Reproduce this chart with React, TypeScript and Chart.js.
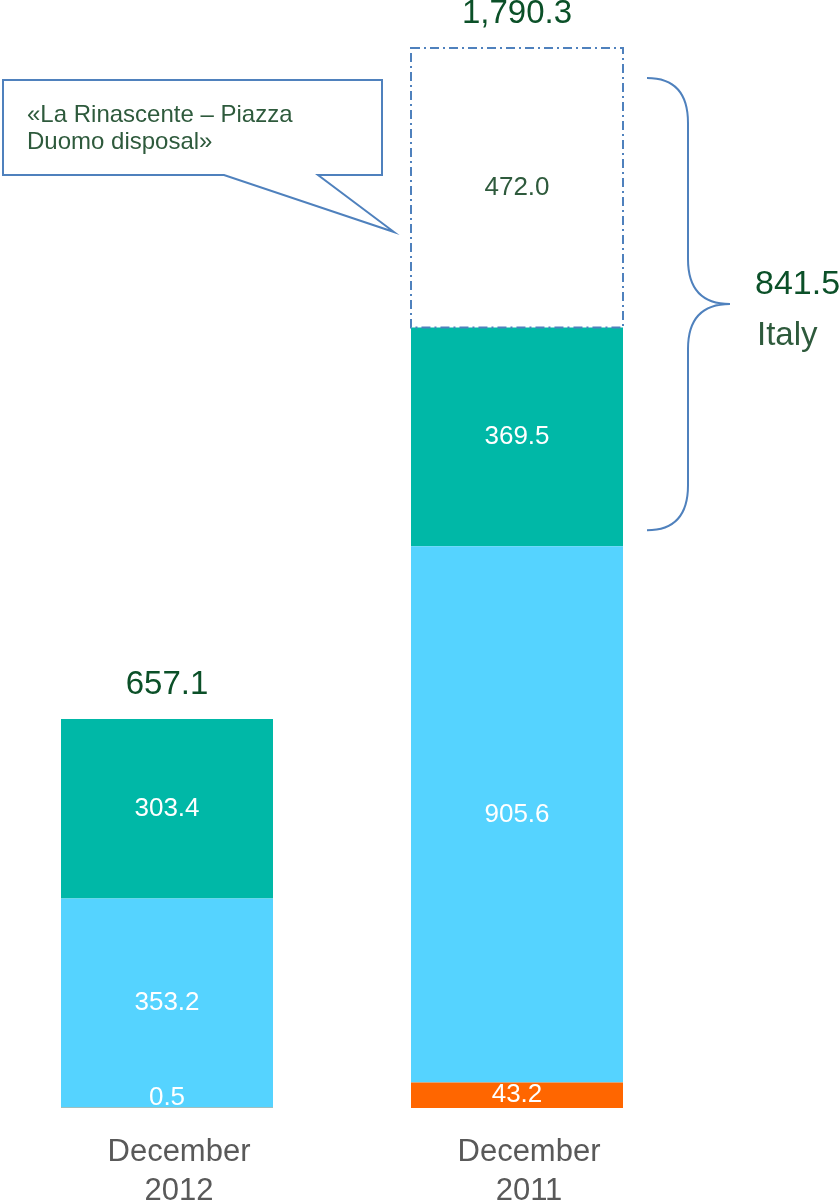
import React, { useEffect, useRef } from 'react';
import { Chart, registerables } from 'chart.js';

Chart.register(...registerables);

// ---------- data ----------
const categories = [['December', '2012'], ['December', '2011']];
const seriesNames = ['Other', 'Abroad', 'Italy', 'La Rinascente – Piazza Duomo disposal'];
const otherValues = [0.5, 43.2];
const abroadValues = [353.2, 905.6];
const italyValues = [303.4, 369.5];
const disposalValues: (number | null)[] = [null, 472.0];
const bracketLabel = 'Italy';
const calloutLines = ['«La Rinascente – Piazza', 'Duomo disposal»'];

// ---------- style ----------
const FONT = '"Liberation Sans", Arial, Helvetica, sans-serif';
const COLORS = ['#FF6600', '#55D3FF', '#00B8A7', '#FFFFFF'];
const LINE = '#4F81BD';
const TOTAL_GREEN = '#0B5028';
const TEXT_GREEN = '#2E5A3C';
const AXIS_GREY = '#595959';

const seriesData = [otherValues, abroadValues, italyValues, disposalValues];
const totals = categories.map((_, i) =>
  seriesData.reduce((s, arr) => s + (arr[i] ?? 0), 0)
);
const bracketIndex = 1;
const bracketValue = (italyValues[bracketIndex] ?? 0) + (disposalValues[bracketIndex] ?? 0);
const yMax = Math.max(...totals);

const fmt = (v: number) =>
  v.toLocaleString('en-US', { minimumFractionDigits: 1, maximumFractionDigits: 1 });

const overlayPlugin = {
  id: 'overlay',
  afterDatasetsDraw(chart: any) {
    const ctx = chart.ctx as CanvasRenderingContext2D;
    const yScale = chart.scales.y;
    ctx.save();

    // dashed outline for the disposal segment
    const dMeta = chart.getDatasetMeta(3);
    dMeta.data.forEach((el: any, i: number) => {
      if (disposalValues[i] == null) return;
      const p = el.getProps(['x', 'y', 'base', 'width'], true);
      ctx.setLineDash([9, 4, 2, 4]);
      ctx.strokeStyle = LINE;
      ctx.lineWidth = 2;
      ctx.strokeRect(p.x - p.width / 2, p.y, p.width, p.base - p.y);
    });
    ctx.setLineDash([]);

    // segment labels
    ctx.textAlign = 'center';
    ctx.textBaseline = 'middle';
    ctx.font = `26px ${FONT}`;
    chart.data.datasets.forEach((ds: any, di: number) => {
      const meta = chart.getDatasetMeta(di);
      meta.data.forEach((el: any, i: number) => {
        const v = ds.data[i];
        if (v == null) return;
        const p = el.getProps(['x', 'y', 'base'], true);
        let cy = (p.y + p.base) / 2;
        if (p.base - p.y < 22) cy = p.base - 10;
        ctx.fillStyle = di === 3 ? TEXT_GREEN : '#FFFFFF';
        ctx.fillText(fmt(v), p.x, cy);
      });
    });

    // totals above the bars
    const xMeta = chart.getDatasetMeta(0);
    ctx.font = `33px ${FONT}`;
    ctx.fillStyle = TOTAL_GREEN;
    totals.forEach((t, i) => {
      const x = xMeta.data[i].x;
      const top = yScale.getPixelForValue(t);
      ctx.fillText(fmt(t), x, top - 34);
    });

    // brace for Italy
    const el = chart.getDatasetMeta(3).data[bracketIndex] as any;
    const right = el.x + el.width / 2;
    const top = yScale.getPixelForValue(totals[bracketIndex]) + 30;
    const bot = yScale.getPixelForValue(totals[bracketIndex] - bracketValue) - 16;
    const mid = (top + bot) / 2;
    const x0 = right + 24;
    const x1 = right + 65;
    const x2 = right + 107;
    const r = 45;
    ctx.strokeStyle = LINE;
    ctx.lineWidth = 2;
    ctx.beginPath();
    ctx.moveTo(x0, top);
    ctx.quadraticCurveTo(x1, top, x1, top + r);
    ctx.lineTo(x1, mid - r);
    ctx.quadraticCurveTo(x1, mid, x2, mid);
    ctx.quadraticCurveTo(x1, mid, x1, mid + r);
    ctx.lineTo(x1, bot - r);
    ctx.quadraticCurveTo(x1, bot, x0, bot);
    ctx.stroke();

    ctx.textAlign = 'left';
    ctx.font = `34px ${FONT}`;
    ctx.fillStyle = TOTAL_GREEN;
    ctx.fillText(fmt(bracketValue), x2 + 25, mid - 19);
    ctx.font = `33px ${FONT}`;
    ctx.fillStyle = TEXT_GREEN;
    ctx.fillText(bracketLabel, x2 + 27, mid + 32);

    // callout
    ctx.beginPath();
    ctx.moveTo(11, 80);
    ctx.lineTo(390, 80);
    ctx.lineTo(390, 175);
    ctx.lineTo(326, 175);
    ctx.lineTo(402, 232);
    ctx.lineTo(232, 175);
    ctx.lineTo(11, 175);
    ctx.closePath();
    ctx.fillStyle = '#FFFFFF';
    ctx.fill();
    ctx.strokeStyle = LINE;
    ctx.lineWidth = 2;
    ctx.stroke();

    ctx.font = `24px ${FONT}`;
    ctx.fillStyle = TEXT_GREEN;
    ctx.textBaseline = 'alphabetic';
    ctx.fillText(calloutLines[0], 35, 122);
    ctx.fillText(calloutLines[1], 35, 149);

    ctx.restore();
  },
};

export default function App() {
  const ref = useRef<HTMLCanvasElement | null>(null);

  useEffect(() => {
    if (!ref.current) return;
    const chart = new Chart(ref.current, {
      type: 'bar',
      data: {
        labels: categories,
        datasets: seriesData.map((d, i) => ({
          label: seriesNames[i],
          data: d,
          backgroundColor: COLORS[i],
          borderWidth: 0,
          barPercentage: 212 / 350,
          categoryPercentage: 1,
        })),
      },
      options: {
        responsive: false,
        devicePixelRatio: 1,
        animation: false,
        layout: { padding: { top: 48, right: 148, left: 0, bottom: 0 } },
        plugins: {
          legend: { display: false },
          tooltip: { enabled: false },
        },
        scales: {
          x: {
            stacked: true,
            grid: { display: false },
            border: { display: false },
            ticks: {
              color: AXIS_GREY,
              padding: 17,
              labelOffset: 12,
              font: { family: FONT, size: 31, lineHeight: 1.25 },
              maxRotation: 0,
            },
            afterFit: (scale: any) => {
              scale.height = 94;
            },
          },
          y: {
            stacked: true,
            display: false,
            min: 0,
            max: yMax,
          },
        },
      },
      plugins: [overlayPlugin],
    } as any);
    return () => chart.destroy();
  }, []);

  return (
    <div style={{ position: 'absolute', left: -8, top: 0, width: 848, height: 1202 }}>
      <canvas ref={ref} width={848} height={1202} style={{ display: 'block', width: 848, height: 1202 }} />
    </div>
  );
}
